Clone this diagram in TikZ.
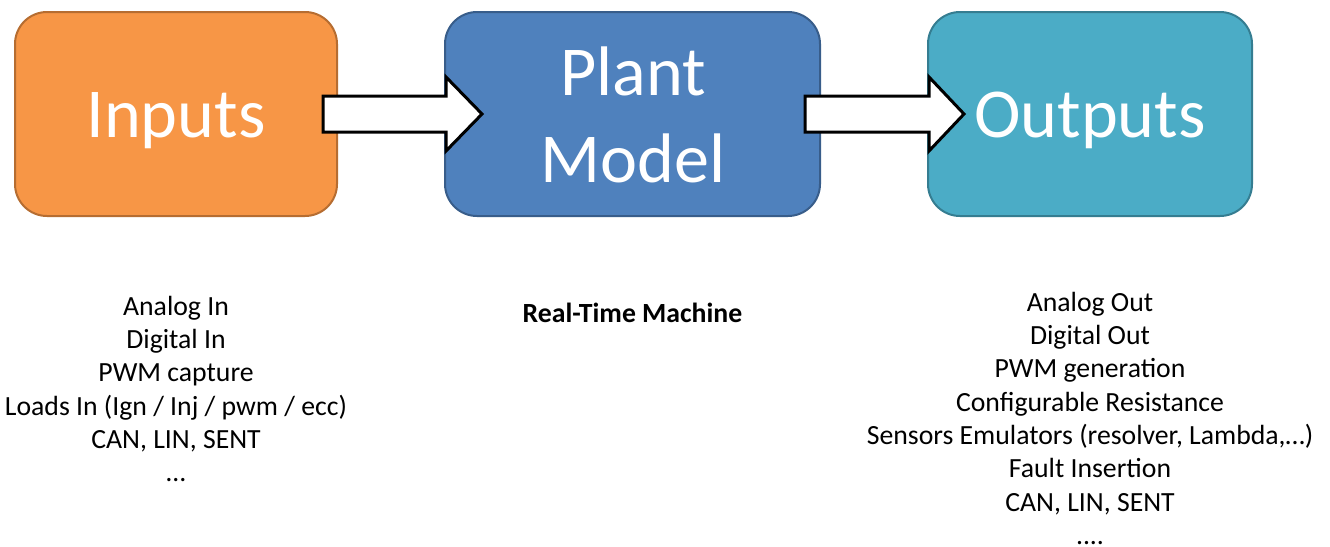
\documentclass[tikz,border=0pt]{standalone}
\usepackage{fontspec}
\setmainfont{Carlito}
\usetikzlibrary{calc}
\definecolor{inpfill}{HTML}{F79646}
\definecolor{inpdraw}{HTML}{B66D31}
\definecolor{plantfill}{HTML}{4F81BD}
\definecolor{plantdraw}{HTML}{385D8A}
\definecolor{outfill}{HTML}{4BACC6}
\definecolor{outdraw}{HTML}{357D91}
\begin{document}
\begin{tikzpicture}[x=0.75pt,y=-0.75pt,
  box/.style={draw, line width=1.5pt, rounded corners=24pt, minimum height=153pt, inner sep=0pt},
  bigtxt/.style={text=white, font=\fontsize{52.6}{65}\selectfont, inner sep=0pt, anchor=base},
  listtxt/.style={font=\fontsize{20.8}{25}\selectfont, inner sep=0pt, anchor=base},
  blockarrow/.style={draw=black, fill=white, line width=2.25pt, line join=miter}]
\useasboundingbox (0,0) rectangle (1330,546);

% the three stages
\node[box, fill=inpfill, draw=inpdraw, minimum width=241.5pt] (inp) at (176,114) {};
\node[box, fill=plantfill, draw=plantdraw, minimum width=281.25pt] (plant) at (632.5,114) {};
\node[box, fill=outfill, draw=outdraw, minimum width=243pt] (out) at (1090,114) {};

% stage titles
\node[bigtxt] (inptxt) at (176,137) {Inputs};
\node[bigtxt] (planttxta) at (633,95) {Plant};
\node[bigtxt] (planttxtb) at (633,182) {Model};
\node[bigtxt] (outtxt) at (1090,137) {Outputs};

% block arrows between the stages
\draw[blockarrow] ($(inp.east)+(-15,-18)$) -- ($(plant.west)+(2,-18)$) -- ($(plant.west)+(2,-37)$)
  -- ($(plant.west)+(38,0)$) -- ($(plant.west)+(2,37)$) -- ($(plant.west)+(2,18)$)
  -- ($(inp.east)+(-15,18)$) -- cycle;
\draw[blockarrow] ($(plant.east)+(-16,-18)$) -- ($(out.west)+(2,-18)$) -- ($(out.west)+(2,-37)$)
  -- ($(out.west)+(37,0)$) -- ($(out.west)+(2,37)$) -- ($(out.west)+(2,18)$)
  -- ($(plant.east)+(-16,18)$) -- cycle;

% descriptions
\node[listtxt] (inlist) at (176,315) {\begin{tabular}[t]{@{}c@{}}
  Analog In\\
  Digital In\\
  PWM capture\\
  Loads In (Ign / Inj / pwm / ecc)\\
  CAN, LIN, SENT\\
  …
\end{tabular}};
\node[listtxt, font=\fontsize{20.8}{25}\selectfont\bfseries] (rtm) at (632.5,322) {Real-Time Machine};
\node[listtxt] (outlist) at (1090,311) {\begin{tabular}[t]{@{}c@{}}
  Analog Out\\
  Digital Out\\
  PWM generation\\
  Configurable Resistance\\
  Sensors Emulators (resolver, Lambda,…)\\
  Fault Insertion\\
  CAN, LIN, SENT\\
  ....
\end{tabular}};
\end{tikzpicture}
\end{document}
